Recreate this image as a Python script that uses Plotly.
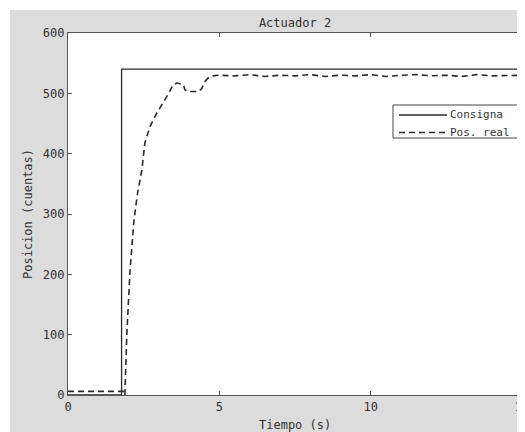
import plotly.graph_objects as go

# Consigna (setpoint)
t_consigna = [0, 1.77, 1.77, 15]
consigna = [0, 0, 540, 540]

# Pos. real (measured position)
t_real = [0, 1.84, 1.86, 1.88, 1.94, 2.05, 2.18, 2.30, 2.44, 2.54, 2.71, 2.93, 3.14, 3.34,
          3.47, 3.59, 3.70, 3.82, 3.86, 3.97, 4.15, 4.31, 4.42, 4.50, 4.62, 4.80, 4.95,
          5.5, 6.0, 6.5, 7.0, 7.5, 8.0, 8.5, 9.0, 9.5, 10.0, 10.5, 11.0, 11.5, 12.0,
          12.5, 13.0, 13.5, 14.0, 14.5, 15.0]
pos_real = [6, 6, 6, 0, 97, 207, 290, 335, 373, 418, 445, 467, 484, 501,
            514, 517, 516, 514, 506, 503, 503, 503, 508, 518, 525, 529, 530,
            529, 531, 528, 530, 529, 531, 528, 530, 529, 531, 528, 530, 531, 529,
            530, 528, 531, 529, 530, 530]

x_ticks = [0, 5, 10, 15]
y_ticks = [0, 100, 200, 300, 400, 500, 600]
legend_labels = ["Consigna", "Pos. real"]

FONT = "DejaVu Sans Mono"
INK = "#2a2a2a"
AXIS = "#555555"
TXT = "#333333"

# figure sits at page offset (8, 8) because of the default body margin
W, H = 517, 424
L, R, T, B = 60, 3, 25, 37
pw, ph = W - L - R, H - T - B


def px(x):
    return (x - L) / pw


def py(y):
    return (H - B - y) / ph


fig = go.Figure()
fig.add_trace(go.Scatter(x=t_consigna, y=consigna, mode="lines", name=legend_labels[0],
                         line=dict(color=INK, width=1.3), showlegend=False))
fig.add_trace(go.Scatter(x=t_real, y=pos_real, mode="lines", name=legend_labels[1],
                         line=dict(color=INK, width=1.6, dash="6px,4px"), showlegend=False))

# manual MATLAB-style legend box
lx0, lx1, ly0, ly1 = 385, 510, 97, 130
row_y = [107, 124.5]
shapes = [
    dict(type="rect", xref="paper", yref="paper", x0=px(0), x1=px(2), y0=py(H), y1=py(0),
         fillcolor="white", line=dict(width=0), layer="below"),
    dict(type="rect", xref="paper", yref="paper", x0=px(0), x1=px(W), y0=py(2), y1=py(0),
         fillcolor="white", line=dict(width=0), layer="below"),
    dict(type="rect", xref="paper", yref="paper", x0=px(lx0), x1=px(lx1), y0=py(ly1), y1=py(ly0),
         fillcolor="white", line=dict(color="#444444", width=1)),
    dict(type="line", xref="paper", yref="paper", x0=px(391), x1=px(439), y0=py(row_y[0]), y1=py(row_y[0]),
         line=dict(color=INK, width=1.3)),
    dict(type="line", xref="paper", yref="paper", x0=px(391), x1=px(439), y0=py(row_y[1]), y1=py(row_y[1]),
         line=dict(color=INK, width=1.6, dash="6px,4px")),
]
annotations = [
    dict(text=legend_labels[0], xref="paper", yref="paper", x=px(440), y=py(row_y[0]),
         xanchor="left", yanchor="middle", showarrow=False, font=dict(family=FONT, size=11, color=TXT)),
    dict(text=legend_labels[1], xref="paper", yref="paper", x=px(440), y=py(row_y[1]),
         xanchor="left", yanchor="middle", showarrow=False, font=dict(family=FONT, size=11, color=TXT)),
    dict(text="Tiempo (s)", xref="paper", yref="paper", x=px(287), y=py(417),
         xanchor="center", yanchor="middle", showarrow=False, font=dict(family=FONT, size=12, color=TXT)),
    dict(text="Posicion (cuentas)", xref="paper", yref="paper", x=px(20), y=0.5, textangle=-90,
         xanchor="center", yanchor="middle", showarrow=False, font=dict(family=FONT, size=12, color=TXT)),
]

fig.update_layout(
    width=W, height=H,
    margin=dict(l=L, r=R, t=T, b=B, pad=0),
    paper_bgcolor="#dcdcdc",
    plot_bgcolor="white",
    font=dict(family=FONT, size=12, color=TXT),
    title=dict(text="Actuador 2", x=287 / W, xanchor="center", y=1 - 15 / H, yanchor="middle",
               font=dict(family=FONT, size=12, color=TXT)),
    showlegend=False,
    shapes=shapes,
    annotations=annotations,
)
fig.update_xaxes(range=[0, 15], tickvals=x_ticks, ticks="inside", ticklen=4,
                 tickcolor=AXIS, showline=True, linecolor=AXIS, linewidth=1.2, mirror="ticks",
                 showgrid=False, zeroline=False, automargin=False, ticklabeloverflow="allow",
                 tickfont=dict(family=FONT, size=12, color=TXT))
fig.update_yaxes(range=[0, 600], tickvals=y_ticks, ticks="inside", ticklen=4,
                 tickcolor=AXIS, showline=True, linecolor=AXIS, linewidth=1.2, mirror="ticks",
                 showgrid=False, zeroline=False, automargin=False, ticklabeloverflow="allow",
                 tickfont=dict(family=FONT, size=12, color=TXT))

fig.write_html("out.html")
